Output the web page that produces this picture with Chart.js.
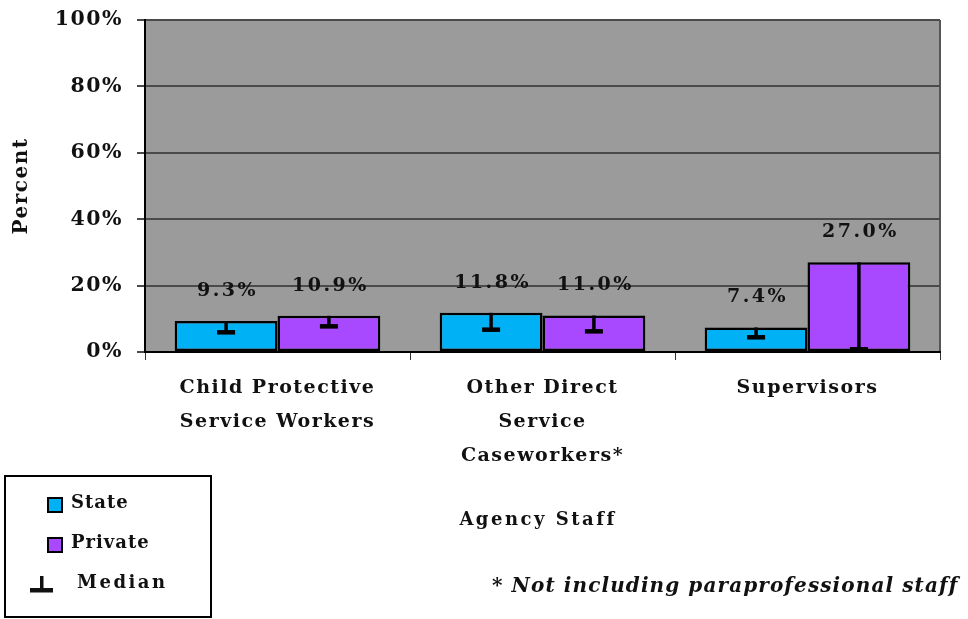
<!DOCTYPE html>
<html>
<head>
<meta charset="utf-8">
<script src="https://cdn.jsdelivr.net/npm/chart.js@4.4.1/dist/chart.umd.min.js"></script>
<style>
  html, body { margin: 0; padding: 0; background: #fff; }
  #wrap { width: 968px; height: 619px; }
</style>
</head>
<body>
<div id="wrap"><canvas id="myChart" width="968" height="619"></canvas></div>
<script>
// chart data
const categories = [
  ["Child Protective", "Service Workers"],
  ["Other Direct", "Service", "Caseworkers*"],
  ["Supervisors"],
];
const stateValues = [9.3, 11.8, 7.4];
const privateValues = [10.9, 11.0, 27.0];
const stateMedians = [6.0, 6.8, 4.5];
const privateMedians = [7.8, 6.3, 0];
const yTicks = [0, 20, 40, 60, 80, 100];

const stateColor = "#00b2f5";
const privateColor = "#a848ff";
const serif = "'DejaVu Serif', serif";

// letter spacing for the library's own text (ticks, titles)
const spacingPlugin = {
  id: "spacing",
  beforeInit(chart) { chart.ctx.letterSpacing = "1.5px"; },
  beforeLayout(chart) { chart.ctx.letterSpacing = "1.5px"; },
  beforeDraw(chart) { chart.ctx.letterSpacing = "1.5px"; },
};

// grey plot background and right border
const backgroundPlugin = {
  id: "plotBg",
  beforeDraw(chart) {
    const { ctx, chartArea: a } = chart;
    ctx.save();
    ctx.fillStyle = "#9b9b9b";
    ctx.fillRect(a.left, a.top, a.right - a.left, a.bottom - a.top);
    ctx.strokeStyle = "#555";
    ctx.lineWidth = 2;
    ctx.beginPath();
    ctx.moveTo(a.right, a.top);
    ctx.lineTo(a.right, a.bottom);
    ctx.stroke();
    ctx.restore();
  },
};

// median markers (inverted T) and value labels
const medianPlugin = {
  id: "medians",
  afterDatasetsDraw(chart) {
    const ctx = chart.ctx;
    const yScale = chart.scales.y;
    const medians = [stateMedians, privateMedians];
    const values = [stateValues, privateValues];
    ctx.save();
    medians.forEach((meds, di) => {
      const meta = chart.getDatasetMeta(di);
      meta.data.forEach((bar, i) => {
        const my = Math.min(yScale.getPixelForValue(meds[i]), yScale.bottom - 3);
        ctx.strokeStyle = "#000";
        ctx.fillStyle = "#000";
        ctx.lineWidth = 3.5;
        ctx.beginPath();
        ctx.moveTo(bar.x, bar.y);
        ctx.lineTo(bar.x, my);
        ctx.stroke();
        ctx.fillRect(bar.x - 9, my - 2, 18, 4.5);

        // value label above the bar
        ctx.font = "bold 19px " + serif;
        ctx.letterSpacing = "2.5px";
        ctx.textAlign = "center";
        ctx.textBaseline = "middle";
        ctx.fillStyle = "#111";
        ctx.fillText(values[di][i].toFixed(1) + "%", bar.x + 1.5, bar.y - 30);
      });
    });
    ctx.restore();
  },
};

// legend box, axis caption and footnote
const extrasPlugin = {
  id: "extras",
  afterDraw(chart) {
    const ctx = chart.ctx;
    ctx.save();
    ctx.strokeStyle = "#000";
    ctx.lineWidth = 2;
    ctx.strokeRect(5, 476, 206, 141);

    ctx.textAlign = "left";
    ctx.textBaseline = "middle";
    ctx.fillStyle = "#111";
    ctx.font = "bold 18px " + serif;

    ctx.fillStyle = stateColor;
    ctx.fillRect(48, 498, 14, 14);
    ctx.strokeRect(48, 498, 14, 14);
    ctx.fillStyle = "#111";
    ctx.letterSpacing = "1px";
    ctx.fillText("State", 71, 503);

    ctx.fillStyle = privateColor;
    ctx.fillRect(48, 538, 14, 14);
    ctx.strokeRect(48, 538, 14, 14);
    ctx.fillStyle = "#111";
    ctx.fillText("Private", 71, 543);

    ctx.fillRect(40, 576, 3.5, 14);
    ctx.fillRect(30, 588, 23, 4.5);
    ctx.letterSpacing = "2.5px";
    ctx.fillText("Median", 77, 583);

    ctx.textAlign = "center";
    ctx.font = "bold 18px " + serif;
    ctx.fillText("Agency Staff", 538, 520);

    ctx.textAlign = "left";
    ctx.font = "italic bold 20px " + serif;
    ctx.letterSpacing = "1.1px";
    ctx.fillText("* Not including paraprofessional staff", 492, 587);
    ctx.restore();
  },
};

const ctx = document.getElementById("myChart").getContext("2d");

new Chart(ctx, {
  type: "bar",
  data: {
    labels: categories,
    datasets: [
      {
        label: "State",
        data: stateValues,
        backgroundColor: stateColor,
        borderColor: "#000",
        borderWidth: 2.5,
        borderSkipped: false,
      },
      {
        label: "Private",
        data: privateValues,
        backgroundColor: privateColor,
        borderColor: "#000",
        borderWidth: 2.5,
        borderSkipped: false,
      },
    ],
  },
  options: {
    responsive: false,
    animation: false,
    devicePixelRatio: 1,
    layout: { padding: { left: 0, right: 28, top: 20, bottom: 0 } },
    datasets: {
      bar: { categoryPercentage: 0.776, barPercentage: 1.0 },
    },
    plugins: {
      legend: { display: false },
      tooltip: { enabled: false },
    },
    scales: {
      x: {
        grid: {
          display: true,
          drawOnChartArea: false,
          offset: true,
          tickLength: 8,
          color: "#333",
          lineWidth: 1,
        },
        border: { color: "#000", width: 2 },
        ticks: {
          color: "#111",
          padding: 11,
          maxRotation: 0,
          autoSkip: false,
          font: { family: serif, weight: "bold", size: 19, lineHeight: 1.8 },
        },
        afterFit(scale) { scale.height = 267; },
      },
      y: {
        min: 0,
        max: 100,
        afterBuildTicks(scale) {
          scale.ticks = yTicks.map((v) => ({ value: v }));
        },
        ticks: {
          color: "#111",
          padding: 14,
          callback: (v) => v + "%",
          font: { family: serif, weight: "bold", size: 20.5 },
        },
        grid: { color: "#4a4a4a", lineWidth: 2, tickLength: 8 },
        border: { color: "#000", width: 2 },
        title: {
          display: true,
          text: "Percent",
          color: "#111",
          padding: { top: 10, bottom: 0 },
          font: { family: serif, weight: "bold", size: 20 },
        },
        afterFit(scale) {
          scale.width = 145;
          scale.paddingTop = 0;
          scale.paddingBottom = 0;
        },
      },
    },
  },
  plugins: [spacingPlugin, backgroundPlugin, medianPlugin, extrasPlugin],
});
</script>
</body>
</html>
